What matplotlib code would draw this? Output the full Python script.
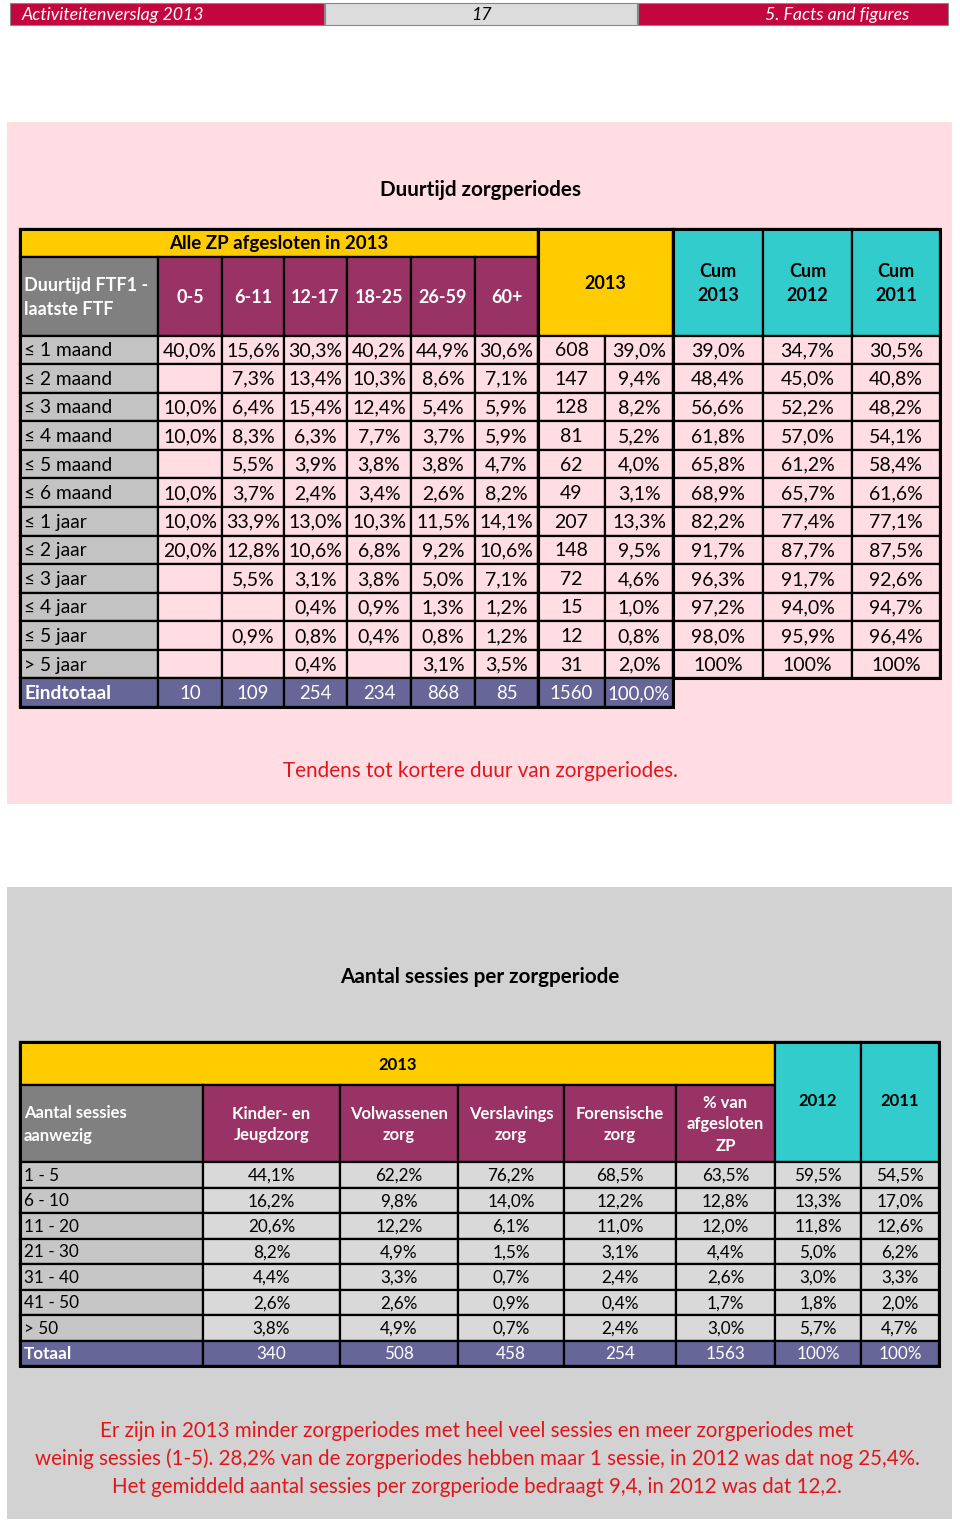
import matplotlib
matplotlib.use("Agg")
import matplotlib.pyplot as plt
from matplotlib.patches import Rectangle

plt.rcParams['font.family'] = ['Lato', 'DejaVu Sans']

# ---------------- data ----------------
header_left = "Activiteitenverslag 2013"
header_mid = "17"
header_right = "5. Facts and figures"

t1_title = "Duurtijd zorgperiodes"
t1_group = "Alle ZP afgesloten in 2013"
t1_corner = "Duurtijd FTF1 -\nlaatste FTF"
t1_age_groups = ["0-5", "6-11", "12-17", "18-25", "26-59", "60+"]
t1_year_head = "2013"
t1_cum_heads = ["Cum\n2013", "Cum\n2012", "Cum\n2011"]
t1_rows = ["≤ 1 maand", "≤ 2 maand", "≤ 3 maand", "≤ 4 maand", "≤ 5 maand",
           "≤ 6 maand", "≤ 1 jaar", "≤ 2 jaar", "≤ 3 jaar", "≤ 4 jaar",
           "≤ 5 jaar", "> 5 jaar"]
age_0_5 = ["40,0%", "", "10,0%", "10,0%", "", "10,0%", "10,0%", "20,0%", "", "", "", ""]
age_6_11 = ["15,6%", "7,3%", "6,4%", "8,3%", "5,5%", "3,7%", "33,9%", "12,8%", "5,5%", "", "0,9%", ""]
age_12_17 = ["30,3%", "13,4%", "15,4%", "6,3%", "3,9%", "2,4%", "13,0%", "10,6%", "3,1%", "0,4%", "0,8%", "0,4%"]
age_18_25 = ["40,2%", "10,3%", "12,4%", "7,7%", "3,8%", "3,4%", "10,3%", "6,8%", "3,8%", "0,9%", "0,4%", ""]
age_26_59 = ["44,9%", "8,6%", "5,4%", "3,7%", "3,8%", "2,6%", "11,5%", "9,2%", "5,0%", "1,3%", "0,8%", "3,1%"]
age_60p = ["30,6%", "7,1%", "5,9%", "5,9%", "4,7%", "8,2%", "14,1%", "10,6%", "7,1%", "1,2%", "1,2%", "3,5%"]
count_2013 = [608, 147, 128, 81, 62, 49, 207, 148, 72, 15, 12, 31]
pct_2013 = ["39,0%", "9,4%", "8,2%", "5,2%", "4,0%", "3,1%", "13,3%", "9,5%", "4,6%", "1,0%", "0,8%", "2,0%"]
cum_2013 = ["39,0%", "48,4%", "56,6%", "61,8%", "65,8%", "68,9%", "82,2%", "91,7%", "96,3%", "97,2%", "98,0%", "100%"]
cum_2012 = ["34,7%", "45,0%", "52,2%", "57,0%", "61,2%", "65,7%", "77,4%", "87,7%", "91,7%", "94,0%", "95,9%", "100%"]
cum_2011 = ["30,5%", "40,8%", "48,2%", "54,1%", "58,4%", "61,6%", "77,1%", "87,5%", "92,6%", "94,7%", "96,4%", "100%"]
t1_total_label = "Eindtotaal"
t1_totals = ["10", "109", "254", "234", "868", "85", "1560", "100,0%"]
t1_note = "Tendens tot kortere duur van zorgperiodes."

t2_title = "Aantal sessies per zorgperiode"
t2_group = "2013"
t2_corner = "Aantal sessies\naanwezig"
t2_heads = ["Kinder- en\nJeugdzorg", "Volwassenen\nzorg", "Verslavings\nzorg",
            "Forensische\nzorg", "% van\nafgesloten\nZP"]
t2_year_heads = ["2012", "2011"]
t2_rows = ["1 - 5", "6 - 10", "11 - 20", "21 - 30", "31 - 40", "41 - 50", "> 50"]
kinder = ["44,1%", "16,2%", "20,6%", "8,2%", "4,4%", "2,6%", "3,8%"]
volw = ["62,2%", "9,8%", "12,2%", "4,9%", "3,3%", "2,6%", "4,9%"]
versl = ["76,2%", "14,0%", "6,1%", "1,5%", "0,7%", "0,9%", "0,7%"]
foren = ["68,5%", "12,2%", "11,0%", "3,1%", "2,4%", "0,4%", "2,4%"]
pct_afg = ["63,5%", "12,8%", "12,0%", "4,4%", "2,6%", "1,7%", "3,0%"]
y2012 = ["59,5%", "13,3%", "11,8%", "5,0%", "3,0%", "1,8%", "5,7%"]
y2011 = ["54,5%", "17,0%", "12,6%", "6,2%", "3,3%", "2,0%", "4,7%"]
t2_total_label = "Totaal"
t2_totals = ["340", "508", "458", "254", "1563", "100%", "100%"]
t2_note = ("Er zijn in 2013 minder zorgperiodes met heel veel sessies en meer zorgperiodes met\n"
           "weinig sessies (1-5). 28,2% van de zorgperiodes hebben maar 1 sessie, in 2012 was dat nog 25,4%.\n"
           "Het gemiddeld aantal sessies per zorgperiode bedraagt 9,4, in 2012 was dat 12,2.")

# ---------------- styles ----------------
RED = "#C4063F"
YELLOW = "#FFCC00"
PURPLE = "#993366"
CYAN = "#33CCCC"
TOTAL = "#666699"
DARKGREY = "#808080"
LABELGREY = "#C3C3C3"
PINK = "#FFDDE3"
PANELGREY = "#D2D2D2"
CELLGREY = "#D9D9D9"
NOTE_RED = "#E0161C"

fig = plt.figure(figsize=(9.6, 15.21), dpi=100)
ax = fig.add_axes([0, 0, 1, 1])
ax.set_xlim(0, 960)
ax.set_ylim(1521, 0)
ax.axis('off')


def rect(x0, y0, x1, y1, fc, ec="black", lw=1.6, z=1):
    ax.add_patch(Rectangle((x0, y0), x1 - x0, y1 - y0, facecolor=fc,
                           edgecolor=ec, linewidth=lw, zorder=z))


def txt(x, y, s, size=13, color="black", weight="normal", ha="center",
        style="normal", ls=1.3):
    ax.text(x, y, s, fontsize=size, color=color, fontweight=weight, ha=ha,
            va="center", fontstyle=style, linespacing=ls, zorder=5)


def cell(x0, y0, x1, y1, fc, s="", size=13, color="black", weight="normal",
         ha="center", ls=1.3, pad=4):
    rect(x0, y0, x1, y1, fc)
    if s != "":
        if ha == "left":
            x = x0 + pad
        else:
            x = (x0 + x1) / 2
        txt(x, (y0 + y1) / 2 + 1, s, size=size, color=color, weight=weight,
            ha=ha, ls=ls)


# ---------------- page header ----------------
rect(10, 3, 324, 25, RED, ec="#888888", lw=0.8)
rect(325, 3, 637, 25, "#DCDCDC", ec="#888888", lw=0.8)
rect(638, 3, 948, 25, RED, ec="#888888", lw=0.8)
txt(22, 15, header_left, size=12.8, color="white", ha="left", style="italic")
txt(481, 15, header_mid, size=12.8, color="black", style="italic")
txt(909, 15, header_right, size=12.8, color="white", ha="right", style="italic")

# ---------------- panel 1 ----------------
ax.add_patch(Rectangle((7, 122), 945, 682, facecolor=PINK, edgecolor="none", zorder=0))
txt(480, 190, t1_title, size=14.9, weight="bold")

xs1 = [20, 158, 222, 284, 347, 411, 475, 538, 605, 673, 763, 852, 940]
top1, mid1, hdr_bot1 = 229, 257, 335.5
rh1 = (707 - 335.5) / 13

# header
cell(xs1[0], top1, xs1[7], mid1, YELLOW, t1_group, size=13.5, weight="bold")
cell(xs1[0], mid1, xs1[1], hdr_bot1, DARKGREY, t1_corner, size=13, color="white",
     weight="bold", ha="left", ls=1.5)
for i, g in enumerate(t1_age_groups):
    cell(xs1[1 + i], mid1, xs1[2 + i], hdr_bot1, PURPLE, g, size=13,
         color="white", weight="bold")
cell(xs1[7], top1, xs1[9], hdr_bot1, YELLOW, t1_year_head, size=13, weight="bold")
for i, h in enumerate(t1_cum_heads):
    cell(xs1[9 + i], top1, xs1[10 + i], hdr_bot1, CYAN, h, size=13,
         weight="bold", ls=1.5)

cols1 = [age_0_5, age_6_11, age_12_17, age_18_25, age_26_59, age_60p,
         [str(c) for c in count_2013], pct_2013, cum_2013, cum_2012, cum_2011]
for r, lab in enumerate(t1_rows):
    y0 = hdr_bot1 + r * rh1
    y1 = y0 + rh1
    cell(xs1[0], y0, xs1[1], y1, LABELGREY, lab, size=13.8, ha="left")
    for c, col in enumerate(cols1):
        cell(xs1[1 + c], y0, xs1[2 + c], y1, PINK, col[r], size=14)

y0 = hdr_bot1 + len(t1_rows) * rh1
y1 = y0 + rh1
cell(xs1[0], y0, xs1[1], y1, TOTAL, t1_total_label, size=13.8, color="white",
     weight="bold", ha="left")
for c, v in enumerate(t1_totals):
    cell(xs1[1 + c], y0, xs1[2 + c], y1, TOTAL, v, size=13.4, color="white")

# thicker outlines
for (a, b, c_, d) in [(xs1[0], top1, xs1[7], y1), (xs1[7], top1, xs1[9], y1),
                      (xs1[9], top1, xs1[12], y0)]:
    rect(a, b, c_, d, "none", lw=2.2, z=3)

txt(480, 771, t1_note, size=14.9, color=NOTE_RED)

# ---------------- panel 2 ----------------
ax.add_patch(Rectangle((7, 887), 945, 632, facecolor=PANELGREY, edgecolor="none", zorder=0))
txt(480, 977, t2_title, size=14.9, weight="bold")

xs2 = [20, 203, 340, 458, 564, 676, 775, 861, 939]
top2, mid2, hdr_bot2 = 1042, 1085, 1162
rh2 = (1366 - 1162) / 8

cell(xs2[0], top2, xs2[6], mid2, YELLOW, t2_group, size=12, weight="bold")
cell(xs2[0], mid2, xs2[1], hdr_bot2, DARKGREY, t2_corner, size=12,
     color="white", weight="bold", ha="left", ls=1.5)
for i, h in enumerate(t2_heads):
    cell(xs2[1 + i], mid2, xs2[2 + i], hdr_bot2, PURPLE, h, size=12,
         color="white", weight="bold", ls=1.45)
for i, h in enumerate(t2_year_heads):
    rect(xs2[6 + i], top2, xs2[7 + i], hdr_bot2, CYAN)
    txt((xs2[6 + i] + xs2[7 + i]) / 2, 1101, h, size=12, weight="bold")

cols2 = [kinder, volw, versl, foren, pct_afg, y2012, y2011]
for r, lab in enumerate(t2_rows):
    y0 = hdr_bot2 + r * rh2
    y1 = y0 + rh2
    cell(xs2[0], y0, xs2[1], y1, "#C6C6C6", lab, size=12.3, ha="left")
    for c, col in enumerate(cols2):
        cell(xs2[1 + c], y0, xs2[2 + c], y1, CELLGREY, col[r], size=12.3)
y0 = hdr_bot2 + len(t2_rows) * rh2
y1 = y0 + rh2
cell(xs2[0], y0, xs2[1], y1, TOTAL, t2_total_label, size=12.3, color="white",
     weight="bold", ha="left")
for c, v in enumerate(t2_totals):
    cell(xs2[1 + c], y0, xs2[2 + c], y1, TOTAL, v, size=12.3, color="white")
rect(xs2[0], top2, xs2[8], y1, "none", lw=2.2, z=3)

txt(477, 1459, t2_note, size=14.8, color=NOTE_RED, ls=1.45)

fig.savefig("out.png", dpi=100)
